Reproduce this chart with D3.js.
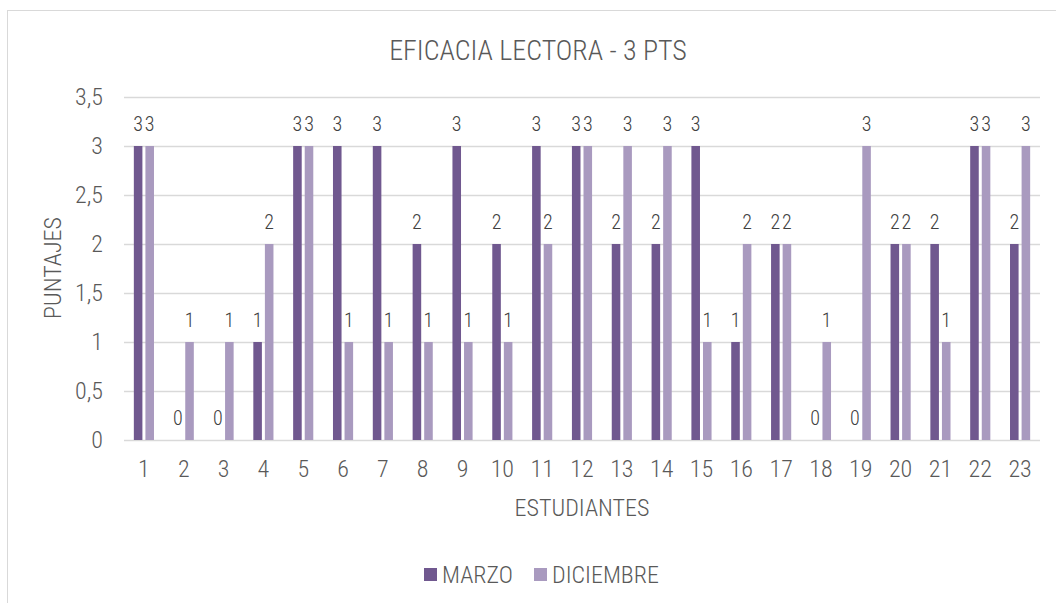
<!DOCTYPE html>
<html>
<head>
<meta charset="utf-8">
<script src="https://cdn.jsdelivr.net/npm/d3@7"></script>
<style>
  body { margin: 0; background: #fff; }
  text { font-family: "Liberation Sans Narrow", "Roboto Condensed", "Liberation Sans", sans-serif; font-weight: 300; }
</style>
</head>
<body>
<script>
// chart data
var estudiantes = ["1","2","3","4","5","6","7","8","9","10","11","12","13","14","15","16","17","18","19","20","21","22","23"];
var marzo     = [3,0,0,1,3,3,3,2,3,2,3,3,2,2,3,1,2,0,0,2,2,3,2];
var diciembre = [3,1,1,2,3,1,1,1,1,1,2,3,3,3,1,2,2,1,3,2,1,3,3];
var series = ["MARZO", "DICIEMBRE"];
var yTicks = [0, 0.5, 1, 1.5, 2, 2.5, 3, 3.5];

var width = 1056, height = 603;
var margin = {top: 97, left: 124, right: 16, bottom: 162};

var color = d3.scaleOrdinal().domain(series).range(["#70588f", "#a99abf"]);

var svg = d3.select("body").append("svg")
  .attr("width", width)
  .attr("height", height);

// outer chart border
svg.append("rect")
  .attr("x", 7.5).attr("y", 10.5)
  .attr("width", 1060).attr("height", 600)
  .attr("fill", "#fff")
  .attr("stroke", "#d9d9d9");

var x = d3.scaleBand()
  .domain(estudiantes)
  .range([margin.left, width - margin.right]);

var xInner = d3.scaleBand()
  .domain(series)
  .range([0, x.bandwidth()])
  .paddingInner(0.26)
  .paddingOuter(0.85);

var y = d3.scaleLinear()
  .domain([0, 3.5])
  .range([height - margin.bottom - 1, margin.top]);

var fmt = function(d) { return String(d).replace(".", ","); };

// gridlines
var yAxis = d3.axisLeft(y)
  .tickValues(yTicks)
  .tickSize(-(width - margin.left - margin.right))
  .tickPadding(21)
  .tickFormat(fmt);

var gy = svg.append("g")
  .attr("transform", "translate(" + margin.left + ",0)")
  .call(yAxis);
gy.select(".domain").remove();
gy.selectAll(".tick line").attr("stroke", "#d9d9d9").attr("stroke-width", 1.5);
gy.selectAll(".tick text")
  .attr("fill", "#595959")
  .style("font-size", "24px");

var xAxis = d3.axisBottom(x).tickSize(0).tickPadding(20);
var gx = svg.append("g")
  .attr("transform", "translate(0," + y(0) + ")")
  .call(xAxis);
gx.select(".domain").remove();
gx.selectAll(".tick text")
  .attr("fill", "#595959")
  .style("font-size", "24px");

// bars
var rows = estudiantes.map(function(e, i) {
  return {est: e, vals: [{s: "MARZO", v: marzo[i]}, {s: "DICIEMBRE", v: diciembre[i]}]};
});

var groups = svg.append("g").selectAll("g")
  .data(rows)
  .join("g")
  .attr("transform", function(d) { return "translate(" + x(d.est) + ",0)"; });

groups.selectAll("rect")
  .data(function(d) { return d.vals; })
  .join("rect")
  .attr("x", function(d) { return xInner(d.s); })
  .attr("width", xInner.bandwidth())
  .attr("y", function(d) { return y(d.v); })
  .attr("height", function(d) { return y(0) - y(d.v); })
  .attr("fill", function(d) { return color(d.s); });

groups.selectAll("text")
  .data(function(d) { return d.vals; })
  .join("text")
  .attr("x", function(d) { return xInner(d.s) + xInner.bandwidth() / 2; })
  .attr("y", function(d) { return y(d.v) - 22; })
  .attr("text-anchor", "middle")
  .attr("dominant-baseline", "central")
  .attr("fill", "#404040")
  .style("font-size", "20px")
  .text(function(d) { return d.v; });

// title
svg.append("text")
  .attr("x", 538).attr("y", 50)
  .attr("text-anchor", "middle")
  .attr("dominant-baseline", "central")
  .attr("fill", "#595959")
  .style("font-size", "28px")
  .text("EFICACIA LECTORA - 3 PTS");

// axis titles
svg.append("text")
  .attr("x", 582).attr("y", 508)
  .attr("text-anchor", "middle")
  .attr("dominant-baseline", "central")
  .attr("fill", "#595959")
  .style("font-size", "24px")
  .text("ESTUDIANTES");

svg.append("text")
  .attr("transform", "translate(53,268) rotate(-90)")
  .attr("text-anchor", "middle")
  .attr("dominant-baseline", "central")
  .attr("fill", "#595959")
  .style("font-size", "24px")
  .text("PUNTAJES");

// legend
var legendX = [424, 534];
var lg = svg.append("g").selectAll("g")
  .data(series)
  .join("g")
  .attr("transform", function(d, i) { return "translate(" + legendX[i] + ",568)"; });
lg.append("rect")
  .attr("width", 13).attr("height", 13)
  .attr("fill", function(d) { return color(d); });
lg.append("text")
  .attr("x", 18).attr("y", 7)
  .attr("dominant-baseline", "central")
  .attr("fill", "#595959")
  .style("font-size", "24px")
  .text(function(d) { return d; });
</script>
</body>
</html>
